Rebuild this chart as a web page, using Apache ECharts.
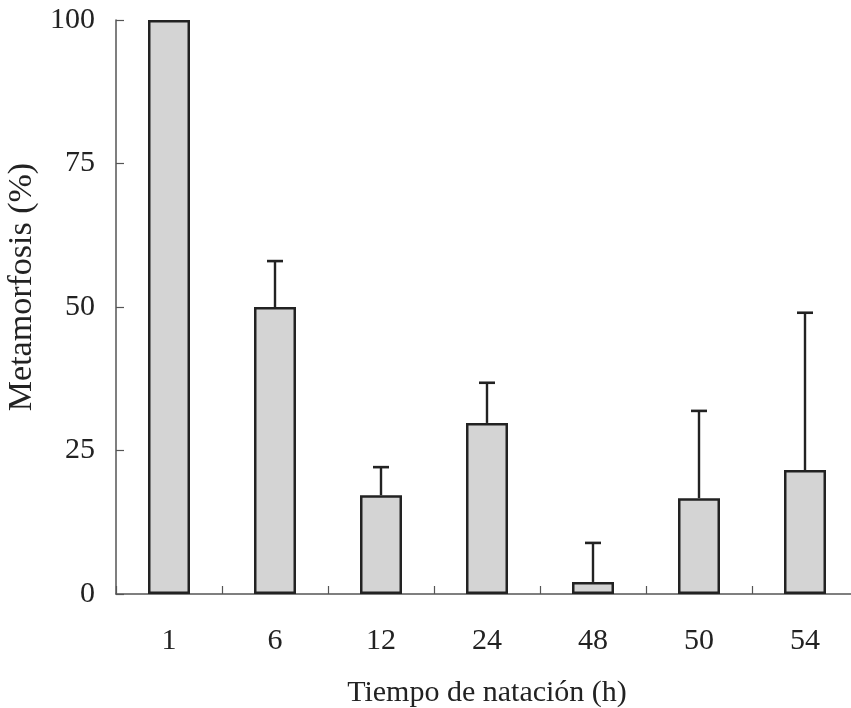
<!DOCTYPE html>
<html>
<head>
<meta charset="utf-8">
<script src="https://cdn.jsdelivr.net/npm/echarts@6/dist/echarts.min.js"></script>
<style>
  html, body { margin: 0; padding: 0; background: #fff; }
  #chart { width: 851px; height: 708px; }
</style>
</head>
<body>
<div id="chart"></div>
<script>
var categories = ['1', '6', '12', '24', '48', '50', '54'];
var means = [100, 50, 17.2, 29.8, 2.1, 16.7, 21.6];
var errUpper = [null, 58, 22.1, 36.8, 8.9, 31.9, 49];
var yTicks = [0, 25, 50, 75, 100];

var ink = '#222';
var serif = '"Liberation Serif", "DejaVu Serif", serif';

var chart = echarts.init(document.getElementById('chart'), null, { renderer: 'canvas' });

// error bars: only the upper whisker, with a small cap
var errData = [];
for (var i = 0; i < categories.length; i++) {
  if (errUpper[i] != null) errData.push([i, means[i], errUpper[i]]);
}

chart.setOption({
  backgroundColor: '#fff',
  animation: false,
  grid: { left: 116, top: 20, width: 742, bottom: 114, containLabel: false, outerBoundsMode: 'none' },
  xAxis: {
    type: 'category',
    data: categories,
    axisLine: { lineStyle: { color: '#555', width: 1.5 } },
    axisTick: { show: true, inside: true, length: 8, alignWithLabel: false, lineStyle: { color: '#555', width: 1.2 } },
    axisLabel: { color: ink, fontFamily: serif, fontSize: 30, margin: 32 },
    name: 'Tiempo de natación (h)',
    nameLocation: 'middle',
    nameGap: 84,
    nameTextStyle: { color: ink, fontFamily: serif, fontSize: 30 }
  },
  yAxis: {
    type: 'value',
    min: 0,
    max: 100,
    interval: 25,
    axisLine: { show: true, lineStyle: { color: '#555', width: 1.5 } },
    axisTick: { show: true, inside: true, length: 8, lineStyle: { color: '#555', width: 1.2 } },
    splitLine: { show: false },
    axisLabel: {
      color: ink, fontFamily: serif, fontSize: 30, margin: 21,
      formatter: function (v) { return yTicks.indexOf(v) >= 0 ? String(v) : ''; }
    },
    name: 'Metamorfosis (%)',
    nameLocation: 'middle',
    nameGap: 72,
    nameTextStyle: { color: ink, fontFamily: serif, fontSize: 34, padding: [0, 0, 0, 40] }
  },
  series: [
    {
      type: 'bar',
      data: means,
      barWidth: 42,
      itemStyle: { color: '#d4d4d4', borderColor: ink, borderWidth: 2.5 },
      z: 2
    },
    {
      type: 'custom',
      data: errData,
      z: 1,
      renderItem: function (params, api) {
        var base = api.coord([api.value(0), api.value(1)]);
        var top = api.coord([api.value(0), api.value(2)]);
        var half = 8;
        return {
          type: 'group',
          children: [
            { type: 'line', shape: { x1: base[0], y1: base[1], x2: top[0], y2: top[1] },
              style: { stroke: ink, lineWidth: 2.4 } },
            { type: 'line', shape: { x1: top[0] - half, y1: top[1], x2: top[0] + half, y2: top[1] },
              style: { stroke: ink, lineWidth: 2.6 } }
          ]
        };
      }
    }
  ]
});
</script>
</body>
</html>
